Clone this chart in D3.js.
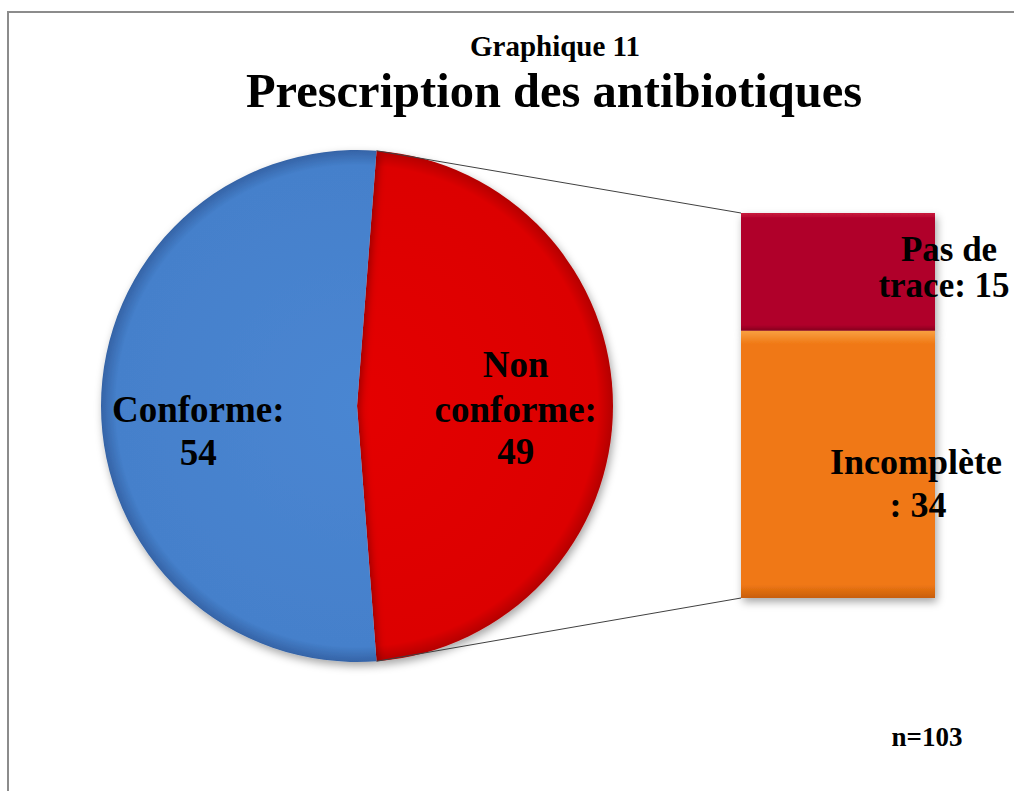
<!DOCTYPE html>
<html>
<head>
    <meta http-equiv="Content-Type" content="text/html;charset=utf-8">
    <title>Prescription des antibiotiques</title>
    <script type="text/javascript" src="https://d3js.org/d3.v7.min.js"></script>
    <style>
        * { margin: 0; padding: 0; }
        html, body { width: 100%; height: 100%; background: #fff; overflow: hidden; }
        svg text { fill: #000; }
    </style>
</head>
<body>
    <script type="text/javascript">
        // pie data (order: Non conforme first so it sits on the right)
        var pieLabels = ["Non conforme", "Conforme"];
        var pieValues = [49, 54];
        var pieText = [["Non", "conforme:", "49"], ["Conforme:", "54"]];

        // breakdown of "Non conforme" into the stacked bar
        var barLabels = ["Pas de trace", "Incomplète"];
        var barValues = [15, 34];
        var barText = [["Pas de", "trace: 15"], ["Incomplète", ": 34"]];

        var total = "n=103";

        var W = 1014, H = 791;
        var cx = 357, cy = 406, r = 256;
        var barX = 741, barW = 194, barTop = 213, barBottom = 598;
        var serif = "'Liberation Serif', 'Times New Roman', Times, serif";

        var svg = d3.select("body").append("svg").attr("width", W).attr("height", H);
        var defs = svg.append("defs");

        var shadow = defs.append("filter").attr("id", "shadow")
            .attr("x", "-10%").attr("y", "-10%").attr("width", "130%").attr("height", "130%");
        shadow.append("feDropShadow").attr("dx", 2).attr("dy", 4).attr("stdDeviation", 4)
            .attr("flood-color", "#000").attr("flood-opacity", 0.35);

        function radial(id, c1, c2, c3) {
            var g = defs.append("radialGradient").attr("id", id)
                .attr("gradientUnits", "userSpaceOnUse")
                .attr("cx", 0).attr("cy", 0).attr("r", r);
            g.append("stop").attr("offset", "0%").attr("stop-color", c1);
            g.append("stop").attr("offset", "94%").attr("stop-color", c2);
            g.append("stop").attr("offset", "100%").attr("stop-color", c3);
        }
        radial("gRed", "#e40202", "#dc0000", "#b40000");
        radial("gBlue", "#4a86d2", "#4580cb", "#3563a6");

        function vert(id, c1, c2, c3) {
            var g = defs.append("linearGradient").attr("id", id)
                .attr("x1", 0).attr("y1", 0).attr("x2", 0).attr("y2", 1);
            g.append("stop").attr("offset", "0%").attr("stop-color", c1);
            g.append("stop").attr("offset", "5%").attr("stop-color", c2);
            g.append("stop").attr("offset", "95%").attr("stop-color", c2);
            g.append("stop").attr("offset", "100%").attr("stop-color", c3);
        }
        vert("gDark", "#c8183c", "#b0002a", "#8a0020");
        vert("gOrange", "#f8a040", "#f07814", "#c85e0c");

        // chart frame (only top and left edges are in view)
        svg.append("rect").attr("x", 8).attr("y", 12).attr("width", 1200).attr("height", 1000)
            .attr("fill", "none").attr("stroke", "#8c8c8c").attr("stroke-width", 2);

        function label(sel, x, yPos, size, t) {
            return sel.append("text").attr("x", x).attr("y", yPos)
                .attr("text-anchor", "middle")
                .attr("font-family", serif).attr("font-weight", "bold")
                .attr("font-size", size).text(t);
        }

        // titles
        label(svg, 555, 56, 29, "Graphique 11");
        label(svg, 554, 107, 48.5, "Prescription des antibiotiques");

        // pie
        var nonShare = pieValues[0] / d3.sum(pieValues);
        var start = Math.PI / 2 - nonShare * Math.PI;
        var pie = d3.pie().sort(null).startAngle(start).endAngle(start + 2 * Math.PI);
        var arcs = pie(pieValues);
        var arc = d3.arc().innerRadius(0).outerRadius(r);
        var labelArc = d3.arc().innerRadius(r * 0.62).outerRadius(r * 0.62);

        var pieG = svg.append("g").attr("transform", "translate(" + cx + "," + cy + ")");
        pieG.selectAll("path.slice").data(arcs).enter().append("path")
            .attr("class", "slice")
            .attr("d", arc)
            .attr("fill", function (d, i) { return i === 0 ? "url(#gRed)" : "url(#gBlue)"; })
            .attr("filter", "url(#shadow)");

        var topPt = [cx + r * Math.sin(arcs[0].startAngle), cy - r * Math.cos(arcs[0].startAngle)];
        var botPt = [cx + r * Math.sin(arcs[0].endAngle), cy - r * Math.cos(arcs[0].endAngle)];

        // stacked bar for Non conforme
        var y = d3.scaleLinear().domain([0, d3.sum(barValues)]).range([barTop, barBottom]);
        var stackStart = d3.cumsum([0].concat(barValues));

        svg.append("line").attr("x1", topPt[0]).attr("y1", topPt[1]).attr("x2", barX).attr("y2", y(0))
            .attr("stroke", "#404040").attr("stroke-width", 1);
        svg.append("line").attr("x1", botPt[0]).attr("y1", botPt[1]).attr("x2", barX).attr("y2", y(d3.sum(barValues)))
            .attr("stroke", "#404040").attr("stroke-width", 1);

        svg.selectAll("rect.seg").data(barValues).enter().append("rect")
            .attr("class", "seg")
            .attr("x", barX).attr("width", barW)
            .attr("y", function (d, i) { return y(stackStart[i]); })
            .attr("height", function (d) { return y(d) - y(0); })
            .attr("fill", function (d, i) { return i === 0 ? "url(#gDark)" : "url(#gOrange)"; })
            .attr("filter", "url(#shadow)");

        // pie labels
        var pieLines = [[-29, 16, 58], [16, 59]];
        pieG.selectAll("g.plabel").data(arcs).enter().append("g").attr("class", "plabel")
            .each(function (d, i) {
                var c = labelArc.centroid(d);
                var g = d3.select(this);
                pieText[i].forEach(function (t, k) {
                    label(g, c[0], c[1] + pieLines[i][k], 37, t);
                });
            });

        // bar labels
        var barLabelX = [[949, 944], [916, 918]];
        var barLabelY = [261, 474];
        var barLineH = [36, 43];
        var barFont = [35, 36];
        barText.forEach(function (lines, i) {
            lines.forEach(function (t, k) {
                label(svg, barLabelX[i][k], barLabelY[i] + k * barLineH[i], barFont[i], t);
            });
        });

        label(svg, 927, 746, 27, total);
    </script>
</body>
</html>
